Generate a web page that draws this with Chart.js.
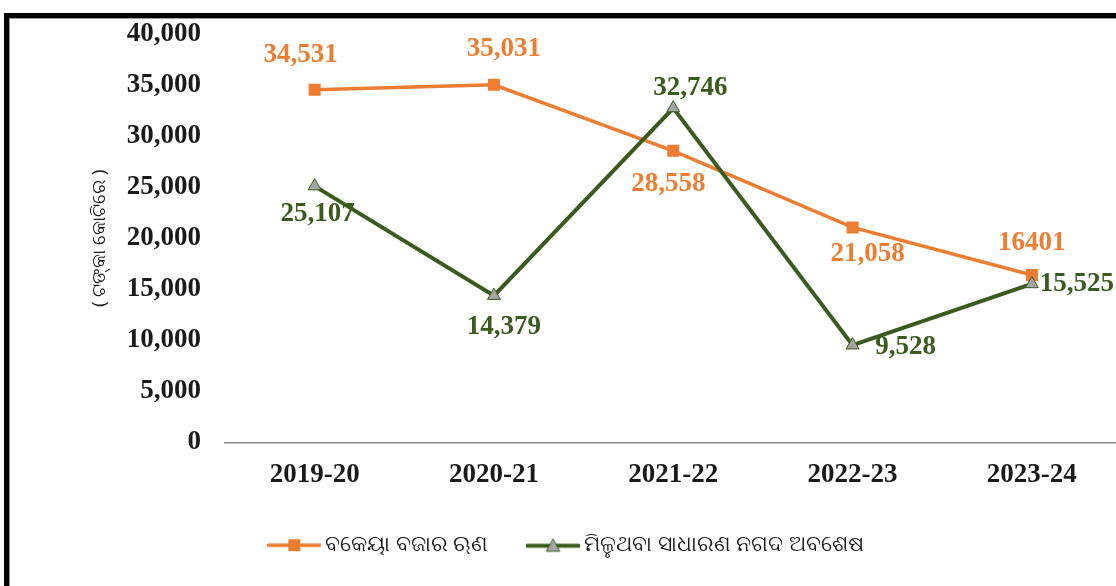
<!DOCTYPE html>
<html>
<head>
<meta charset="utf-8">
<script src="https://cdn.jsdelivr.net/npm/chart.js@4.4.1/dist/chart.umd.min.js"></script>
<style>
  html, body { margin: 0; padding: 0; background: #fff; overflow: hidden; width: 1116px; height: 586px; }
  #wrap { position: absolute; left: 0; top: 0; width: 1130px; height: 586px; }
  #frame { position: absolute; left: 4px; top: 13px; width: 1200px; height: 700px;
           border-left: 5px solid #000; border-top: 5px solid #000;
           box-shadow: inset 1px 1px 0 #9a9a9a; pointer-events: none; z-index: 2; }
</style>
</head>
<body>
<div id="wrap"><canvas id="c" width="1130" height="586"></canvas></div>
<div id="frame"></div>
<script>
// ---- data ----
const categories = ['2019-20', '2020-21', '2021-22', '2022-23', '2023-24'];
const seriesNames = ['ବକେୟା ବଜାର ଋଣ', 'ମିଳୁଥବା ସାଧାରଣ ନଗଦ ଅବଶେଷ'];
const outstandingLoans = [34531, 35031, 28558, 21058, 16401];
const cashBalance = [25107, 14379, 32746, 9528, 15525];
const outstandingLabels = ['34,531', '35,031', '28,558', '21,058', '16401'];
const cashLabels = ['25,107', '14,379', '32,746', '9,528', '15,525'];
const yTickValues = [0, 5000, 10000, 15000, 20000, 25000, 30000, 35000, 40000];
const yTitle = '( ଟଙ୍କା କୋଟିରେ )';

// ---- styles ----
const ORANGE = '#ED7D31';
const GREEN = '#3A5B1F';
const GREEN_TEXT = '#3A5A1E';
const GREY_FILL = '#A5A5A5';
const SERIF = '"Liberation Serif", "Times New Roman", serif';

// label offsets (px) relative to each point
const labelOffsets = [
  [[-14, -35], [10, -36], [-5, 33], [15, 27], [0, -32]],
  [[3, 28], [10, 31], [17, -20], [53, 2], [45, 0]]
];

function legendIcon(kind) {
  const c = document.createElement('canvas');
  c.width = 54; c.height = 16;
  const g = c.getContext('2d');
  g.lineCap = 'round';
  if (kind === 0) {
    g.strokeStyle = ORANGE; g.lineWidth = 3.5;
    g.beginPath(); g.moveTo(1.5, 8); g.lineTo(52.5, 8); g.stroke();
    g.fillStyle = ORANGE; g.fillRect(21, 2, 12, 12);
  } else {
    g.strokeStyle = GREEN; g.lineWidth = 4;
    g.beginPath(); g.moveTo(1.5, 8.5); g.lineTo(52.5, 8.5); g.stroke();
    g.fillStyle = GREY_FILL; g.strokeStyle = GREEN; g.lineWidth = 1;
    g.beginPath(); g.moveTo(27, 2); g.lineTo(33.5, 14); g.lineTo(20.5, 14); g.closePath();
    g.fill(); g.stroke();
  }
  return c;
}
const icons = [legendIcon(0), legendIcon(1)];

const valueLabelPlugin = {
  id: 'valueLabels',
  afterDatasetsDraw(chart, args, opts) {
    const ctx = chart.ctx;
    chart.data.datasets.forEach((ds, di) => {
      const meta = chart.getDatasetMeta(di);
      meta.data.forEach((pt, i) => {
        const off = opts.offsets[di][i];
        ctx.save();
        ctx.font = opts.font;
        ctx.fillStyle = opts.colors[di];
        ctx.textAlign = 'center';
        ctx.textBaseline = 'middle';
        ctx.fillText(opts.labels[di][i], pt.x + off[0], pt.y + off[1]);
        ctx.restore();
      });
    });
  }
};

new Chart(document.getElementById('c'), {
  type: 'line',
  data: {
    labels: categories,
    datasets: [
      {
        label: seriesNames[0],
        data: outstandingLoans,
        borderColor: ORANGE,
        backgroundColor: ORANGE,
        borderWidth: 3.5,
        pointStyle: 'rect',
        pointRadius: 8.5,
        pointBackgroundColor: ORANGE,
        pointBorderColor: ORANGE,
        pointBorderWidth: 0,
        tension: 0,
        order: 1
      },
      {
        label: seriesNames[1],
        data: cashBalance,
        borderColor: GREEN,
        backgroundColor: GREY_FILL,
        borderWidth: 4,
        pointStyle: 'triangle',
        pointRadius: 7.5,
        pointBackgroundColor: GREY_FILL,
        pointBorderColor: GREEN,
        pointBorderWidth: 1,
        tension: 0,
        order: 0
      }
    ]
  },
  options: {
    responsive: false,
    animation: false,
    devicePixelRatio: 1,
    layout: { padding: { left: 16, right: 8, top: 34, bottom: 20 } },
    scales: {
      x: {
        offset: true,
        grid: { display: false, drawTicks: false },
        border: { display: true, color: '#8a8a8a', width: 1.5 },
        ticks: { padding: 16, color: '#1a1a1a', font: { family: SERIF, size: 27, weight: 'bold' } },
        afterFit(s) { s.height = 47; }
      },
      y: {
        min: 0, max: 40000,
        afterBuildTicks(s) { s.ticks = yTickValues.map(v => ({ value: v })); },
        grid: { display: false, drawTicks: false },
        border: { display: false },
        ticks: {
          padding: 24, color: '#1a1a1a',
          font: { family: SERIF, size: 27, weight: 'bold' },
          callback: v => v.toLocaleString('en-US')
        },
        title: {
          display: true, text: yTitle, color: '#1a1a1a',
          font: { family: '"Noto Sans", sans-serif', size: 18.5 },
          padding: { top: 73, bottom: 0 }
        },
        afterFit(s) { s.width = 209; s.paddingTop = 0; s.paddingBottom = 0; }
      }
    },
    plugins: {
      legend: {
        position: 'bottom',
        labels: {
          usePointStyle: true,
          pointStyleWidth: 40,
          padding: 45,
          color: '#1a1a1a',
          font: { family: '"Noto Sans", sans-serif', size: 21.5 },
          sort: (a, b) => a.datasetIndex - b.datasetIndex,
          generateLabels(chart) {
            const items = Chart.defaults.plugins.legend.labels.generateLabels(chart);
            items.forEach(it => { it.pointStyle = icons[it.datasetIndex]; });
            return items;
          }
        }
      },
      tooltip: { enabled: false },
      valueLabels: {
        offsets: labelOffsets,
        labels: [outstandingLabels, cashLabels],
        colors: [ORANGE, GREEN_TEXT],
        font: 'bold 27px ' + SERIF
      }
    }
  },
  plugins: [valueLabelPlugin]
});
</script>
</body>
</html>
